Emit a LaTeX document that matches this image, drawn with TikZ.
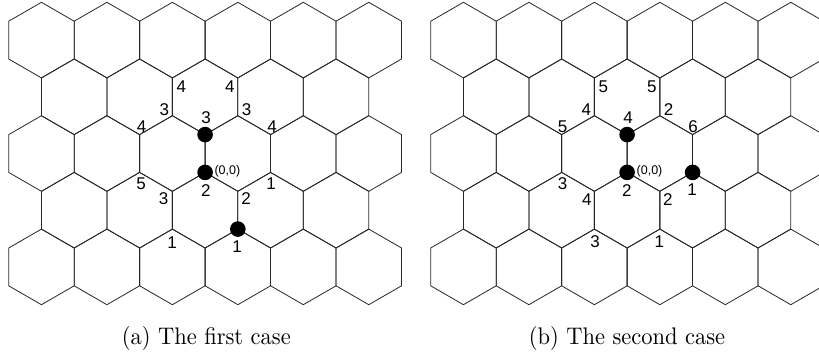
\documentclass[tikz,border=0pt]{standalone}
\usepackage{fontspec}
\usepackage{graphicx}
\newfontfamily\labfont{Liberation Sans}
\tikzset{
  hexedge/.style={line width=0.8pt, draw=black!85, line join=miter},
  dotnode/.style={circle, fill=black, draw=none, minimum size=15.6pt, inner sep=0pt},
  lab/.style={font=\labfont\fontsize{17}{17}\selectfont, inner sep=0pt},
  orglab/.style={font=\labfont\fontsize{12.5}{12.5}\selectfont, inner sep=0pt, anchor=base west},
  caplab/.style={anchor=base, inner sep=0pt}
}
\newcommand\hexat[2]{\draw[hexedge] (#1,#2-37.8) -- ++(32.735,18.9) -- ++(0,37.8) -- ++(-32.735,18.9) -- ++(-32.735,-18.9) -- ++(0,-37.8) -- cycle;}
\begin{document}
\begin{tikzpicture}[x=1pt,y=-1pt]
\useasboundingbox (0,0) rectangle (819,354);
\begin{scope}
\clip (0,0) rectangle (819,354);
\foreach \xo in {8.7,430.7} {
  \foreach \r in {0,2,4} {
    \foreach \i in {0,...,5} {
      \pgfmathsetmacro\cx{\xo+32.735+65.47*\i}
      \pgfmathsetmacro\cy{40.1+56.7*\r}
      \hexat{\cx}{\cy}
    }
  }
  \foreach \r in {1,3} {
    \foreach \i in {0,...,4} {
      \pgfmathsetmacro\cx{\xo+65.47+65.47*\i}
      \pgfmathsetmacro\cy{40.1+56.7*\r}
      \hexat{\cx}{\cy}
    }
  }
}
\end{scope}
% (a) dots
\node[dotnode] (atop) at (205.1,134.6) {};
\node[dotnode] (aorg) at (205.1,172.4) {};
\node[dotnode] (aone) at (237.85,229.1) {};
% (b) dots
\node[dotnode] (btop) at (627.1,134.6) {};
\node[dotnode] (borg) at (627.1,172.4) {};
\node[dotnode] (bone) at (692.6,172.4) {};
% (a) labels
\node[lab] (a1) at (181.3,86.3) {4};
\node[lab] (a2) at (229.8,86.3) {4};
\node[lab] (a3) at (164.3,109.7) {3};
\node[lab] (a4) at (246.7,109.7) {3};
\node[lab] (a5) at (206.2,117.8) {3};
\node[lab] (a6) at (141.5,126.5) {4};
\node[lab] (a7) at (272.2,126.5) {4};
\node[orglab] (a8) at (214.3,174) {(0,0)};
\node[lab] (a9) at (141.2,183.3) {5};
\node[lab] (a10) at (271.2,183.3) {1};
\node[lab] (a11) at (205.8,190.5) {2};
\node[lab] (a12) at (163.7,198.3) {3};
\node[lab] (a13) at (246.2,198.5) {2};
\node[lab] (a14) at (172.0,242.7) {1};
\node[lab] (a15) at (237.2,246.7) {1};
% (b) labels
\node[lab] (b1) at (603.3,86.3) {5};
\node[lab] (b2) at (651.8,86.3) {5};
\node[lab] (b3) at (586.3,109.7) {4};
\node[lab] (b4) at (668.7,109.7) {2};
\node[lab] (b5) at (628.2,117.8) {4};
\node[lab] (b6) at (562.5,126.5) {5};
\node[lab] (b7) at (693.0,126.5) {6};
\node[orglab] (b8) at (636.5,174) {(0,0)};
\node[lab] (b9) at (562.5,183.5) {3};
\node[lab] (b10) at (692.0,189.8) {1};
\node[lab] (b11) at (626.8,190.2) {2};
\node[lab] (b12) at (586.8,200) {4};
\node[lab] (b13) at (667.8,200) {2};
\node[lab] (b14) at (595.2,241.8) {3};
\node[lab] (b15) at (659.3,241.8) {1};
% captions
\node[caplab] (capa) at (206.3,344) {\scalebox{2.25}[2.4]{(a) The first case}};
\node[caplab] (capb) at (627,344) {\scalebox{2.25}[2.4]{(b) The second case}};
\end{tikzpicture}
\end{document}
